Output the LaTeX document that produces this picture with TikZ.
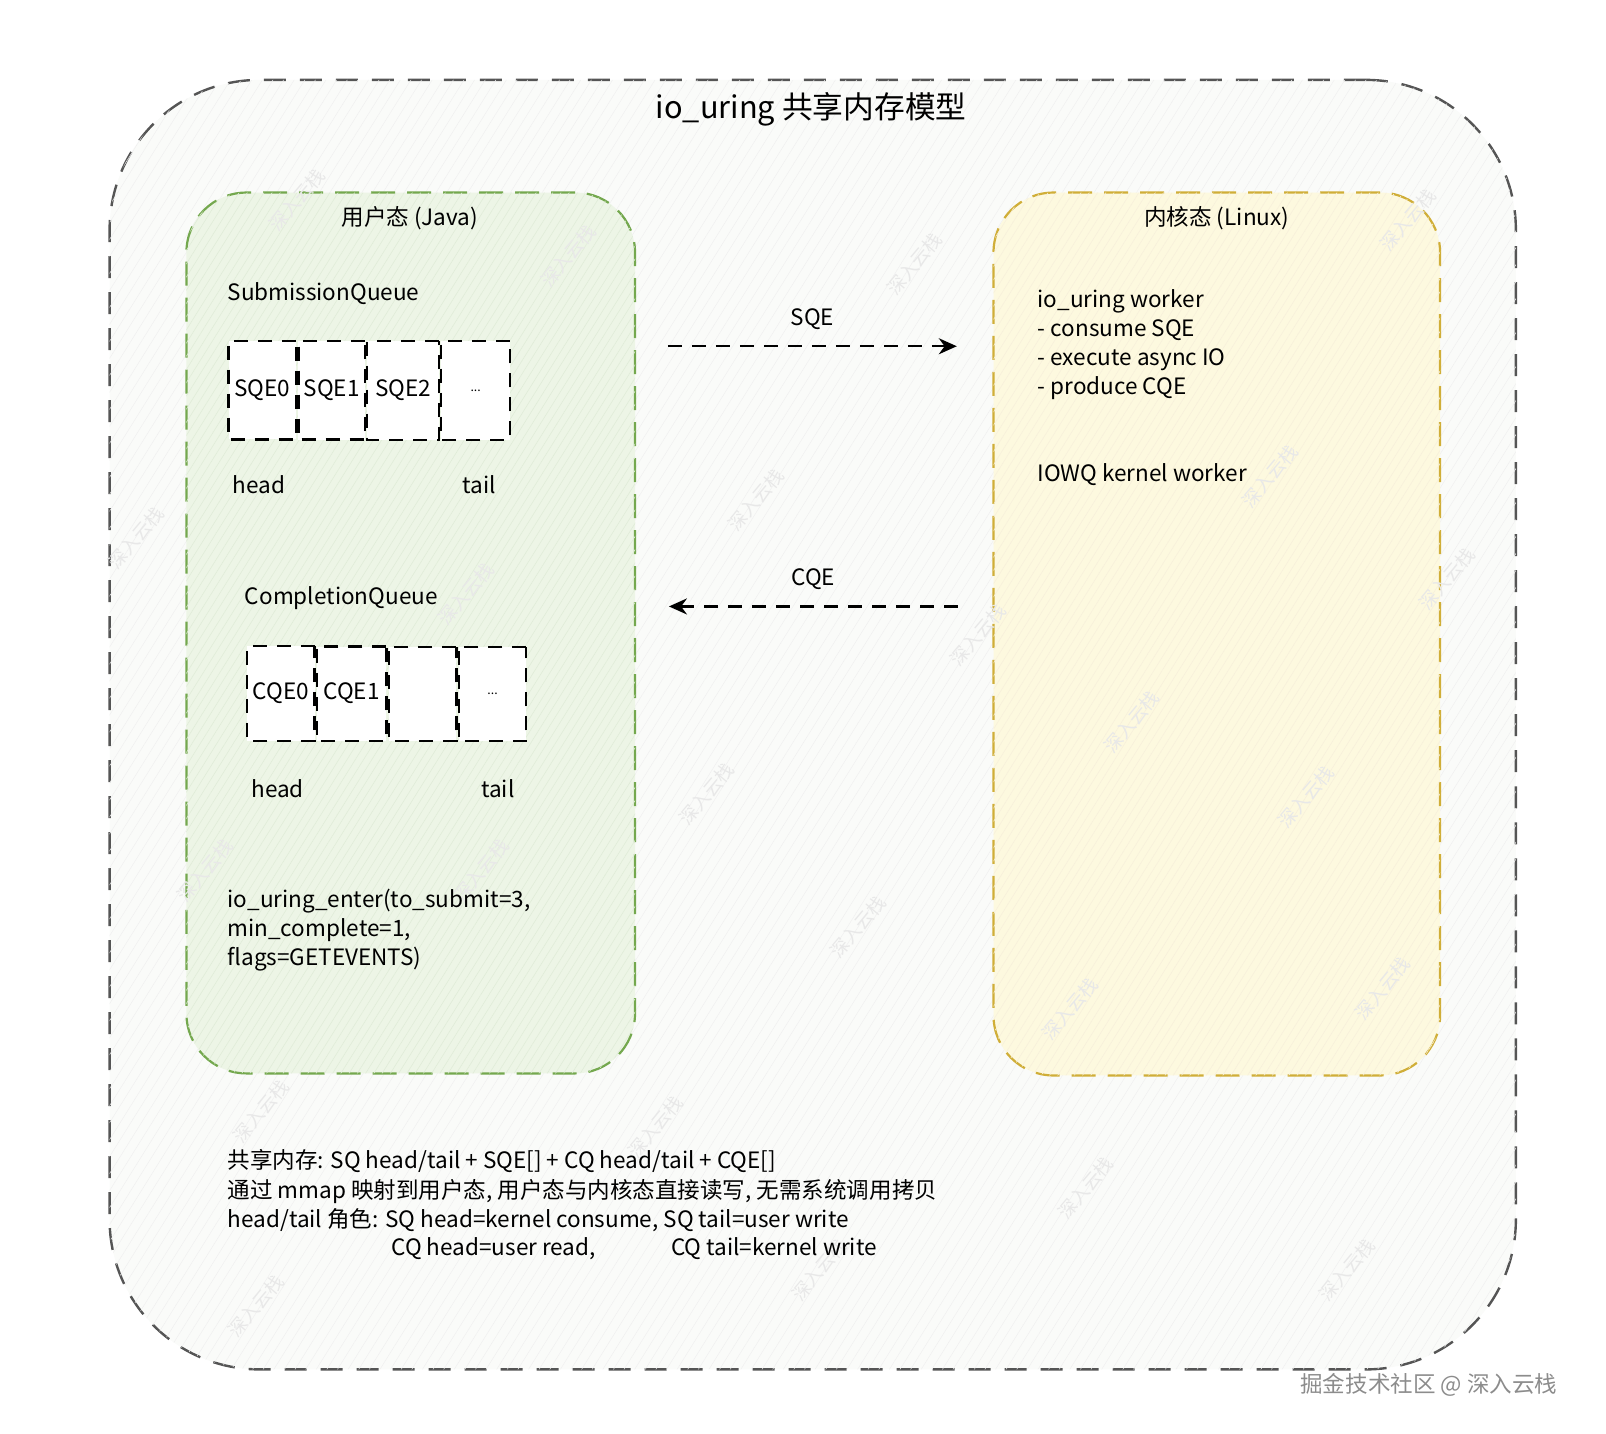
\documentclass[tikz,border=0pt]{standalone}
\usepackage{fontspec}
\setmainfont{Noto Sans CJK SC}
\usetikzlibrary{positioning,arrows.meta,patterns.meta}
\definecolor{framegray}{HTML}{555555}
\definecolor{framefill}{HTML}{FAFBF9}
\definecolor{usergreen}{HTML}{74A84E}
\definecolor{userfill}{HTML}{EDF5E6}
\definecolor{kernelgold}{HTML}{D0AE38}
\definecolor{kernelfill}{HTML}{FDF9DF}
\begin{document}
\begin{tikzpicture}[
        x=1pt, y=-1pt, scale=1.0242,
        every node/.style={inner sep=0pt, transform shape, font=\fontsize{22}{28.5}\selectfont},
        frame/.style={draw=framegray, line width=2.4pt, dash pattern=on 22pt off 14pt,
            rounded corners=150pt, fill=framefill,
            postaction={pattern={Lines[angle=58,distance=9pt,line width=0.5pt]}, pattern color=black!6}},
        region/.style={draw=#1, line width=2.2pt, dash pattern=on 24pt off 12pt,
            rounded corners=60pt},
        cell/.style={draw, line width=2.2pt, dash pattern=on 14pt off 10pt, fill=white},
        flow/.style={-{Stealth[length=18pt,width=16pt]}, line width=2.4pt, dash pattern=on 14pt off 10pt},
        txt/.style={anchor=west, align=left},
        wmark/.style={text=black!9, rotate=50, font=\fontsize{18}{20}\selectfont},
        ]
    \useasboundingbox (0,0) rectangle (1568,1400);

    % outer frame
    \node (frame) [frame, minimum width=1373pt, minimum height=1259pt] at (793.5,707.5) {};
    \node (title) [font=\fontsize{30}{36}\selectfont] at (792,107) {io\_uring 共享内存模型};

    % user space
    \node (user) [region=usergreen, fill=userfill, minimum width=438pt, minimum height=860pt,
        postaction={pattern={Lines[angle=58,distance=7pt,line width=0.6pt]}, pattern color=usergreen!22}]
        at (401,618) {};
    \node (userlabel) at (400,213) {用户态 (Java)};

    % kernel space
    \node (kernel) [region=kernelgold, fill=kernelfill, minimum width=436pt, minimum height=862pt,
        postaction={pattern={Lines[angle=58,distance=7pt,line width=0.6pt]}, pattern color=kernelgold!18}]
        at (1188,619) {};
    \node (kernellabel) at (1188,213) {内核态 (Linux)};

    % watermarks
    \foreach \wx/\wy [count=\i] in {290/195, 555/250, 893/258, 1375/215, 133/525, 738/488,
            1240/465, 1413/565, 455/580, 955/620, 1105/705, 690/775, 1275/778, 200/850,
            470/850, 838/905, 1045/985, 1350/965, 255/1085, 640/1100, 1060/1160,
            1315/1240, 250/1275, 800/1240}
        \node (wmark\i) [wmark] at (\wx,\wy) {深入云栈};

    % submission queue
    \node (sqname) [txt] at (222,287) {SubmissionQueue};
    \node (sqe0) [cell, minimum width=66pt, minimum height=96pt, anchor=north west] at (222,332) {SQE0};
    \node (sqe1) [cell, minimum width=65pt, minimum height=96pt, right=0pt of sqe0] {SQE1};
    \node (sqe2) [cell, minimum width=70pt, minimum height=96pt, right=0pt of sqe1] {SQE2};
    \node (sqdots) [cell, minimum width=67pt, minimum height=96pt, right=0pt of sqe2, font=\fontsize{12}{14}\selectfont] {...};
    \node (sqhead) at (253,473) {head};
    \node (sqtail) at (468,473) {tail};

    % completion queue
    \node (cqname) [txt] at (239,584) {CompletionQueue};
    \node (cqe0) [cell, minimum width=66pt, minimum height=92pt, anchor=north west] at (240,630) {CQE0};
    \node (cqe1) [cell, minimum width=68pt, minimum height=92pt, right=0pt of cqe0] {CQE1};
    \node (cqe2) [cell, minimum width=66pt, minimum height=92pt, right=0pt of cqe1] {};
    \node (cqdots) [cell, minimum width=66pt, minimum height=92pt, right=0pt of cqe2, font=\fontsize{12}{14}\selectfont] {...};
    \node (cqhead) at (271,770) {head};
    \node (cqtail) at (486,770) {tail};

    \node (enter) [txt] at (222,908) {io\_uring\_enter(to\_submit=3,\\min\_complete=1,\\flags=GETEVENTS)};

    % kernel side
    \node (worker) [txt] at (1013,336.5) {io\_uring worker\\- consume SQE\\- execute async IO\\- produce CQE};
    \node (iowq) [txt] at (1013,463) {IOWQ kernel worker};

    % rings between both sides
    \coordinate (sqfrom) at (652,338);
    \coordinate (sqto) at (934,338);
    \coordinate (cqfrom) at (935,592);
    \coordinate (cqto) at (653,592);
    \draw[flow] (sqfrom) -- node[above=15pt] (sqelabel) {SQE} (sqto);
    \draw[flow] (cqfrom) -- node[above=15pt] (cqelabel) {CQE} (cqto);

    % notes
    \node (notes) [txt] at (222,1162.5) {共享内存: SQ head/tail + SQE[] + CQ head/tail + CQE[]\\通过 mmap 映射到用户态, 用户态与内核态直接读写, 无需系统调用拷贝\\head/tail 角色: SQ head=kernel consume, SQ tail=user write};
    \node (cqread) [txt] at (382,1219) {CQ head=user read,};
    \node (cqwrite) [txt] at (655,1219) {CQ tail=kernel write};

    \node (credit) [text=black!45] at (1395,1352) {掘金技术社区 @ 深入云栈};
\end{tikzpicture}
\end{document}
